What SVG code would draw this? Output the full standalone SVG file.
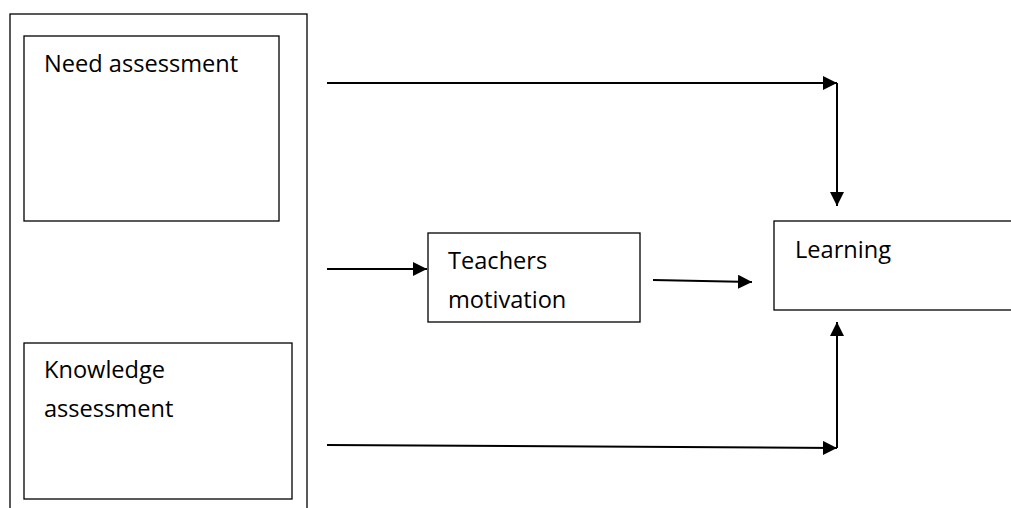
<svg xmlns="http://www.w3.org/2000/svg" width="1011" height="508" viewBox="0 0 1011 508">
  <style>
    .box { fill: #ffffff; stroke: #000000; stroke-width: 1.3; }
    .lbl { font-family: "Open Sans", "Liberation Sans", sans-serif; font-size: 23.6px; fill: #000000; }
    .conn { fill: none; stroke: #000000; stroke-width: 2; }
  </style>
  <defs>
    <marker id="arrow" markerUnits="userSpaceOnUse" markerWidth="15" markerHeight="15" refX="14" refY="7" orient="auto">
      <path d="M0,0 L14,7 L0,14 z" fill="#000000"/>
    </marker>
  </defs>
  <rect x="0" y="0" width="1011" height="508" fill="#ffffff"/>
  <g id="outer">
    <rect class="box" x="10" y="14" width="297" height="520"/>
  </g>
  <g id="need-assessment">
    <rect class="box" x="24" y="36" width="255" height="185"/>
    <text class="lbl" x="44" y="72">Need assessment</text>
  </g>
  <g id="knowledge-assessment">
    <rect class="box" x="24" y="343" width="268" height="156"/>
    <text class="lbl" x="44" y="378">Knowledge</text>
    <text class="lbl" x="44" y="417">assessment</text>
  </g>
  <g id="teachers-motivation">
    <rect class="box" x="428" y="233" width="212" height="89"/>
    <text class="lbl" x="448" y="269">Teachers</text>
    <text class="lbl" x="448" y="308">motivation</text>
  </g>
  <g id="learning">
    <rect class="box" x="774" y="221" width="260" height="89"/>
    <text class="lbl" x="795" y="258">Learning</text>
  </g>
  <g id="connectors">
    <path class="conn" d="M327,83 L837,83" marker-end="url(#arrow)"/>
    <path class="conn" d="M837,83 L837,206" marker-end="url(#arrow)"/>
    <path class="conn" d="M327,269 L427,269" marker-end="url(#arrow)"/>
    <path class="conn" d="M653,280 L752,282" marker-end="url(#arrow)"/>
    <path class="conn" d="M327,445 L837,448" marker-end="url(#arrow)"/>
    <path class="conn" d="M837,448 L837,322" marker-end="url(#arrow)"/>
  </g>
</svg>
